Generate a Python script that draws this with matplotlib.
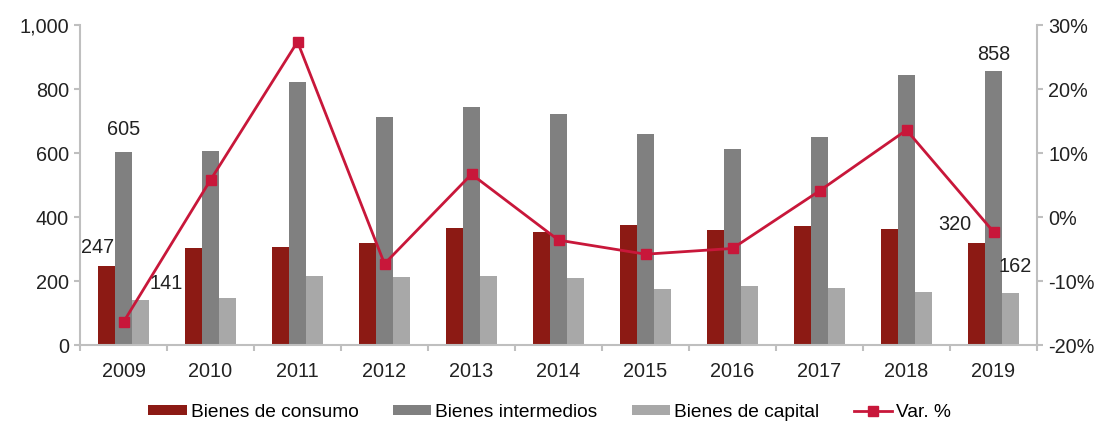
import matplotlib
matplotlib.use("Agg")
import matplotlib.pyplot as plt
import numpy as np
from matplotlib.ticker import FuncFormatter, FixedLocator

plt.rcParams['font.family'] = ['Liberation Sans', 'DejaVu Sans']

years = ['2009', '2010', '2011', '2012', '2013', '2014', '2015', '2016', '2017', '2018', '2019']
consumo = [247, 303, 306, 319, 366, 353, 375, 359, 372, 363, 320]
intermedios = [605, 606, 822, 712, 744, 722, 659, 612, 650, 844, 858]
capital = [141, 147, 216, 213, 216, 209, 175, 184, 178, 165, 162]
var_pct = [-16.4, 5.8, 27.4, -7.3, 6.7, -3.6, -5.8, -4.9, 4.1, 13.6, -2.3]

c_cons = '#8C1A14'
c_int = '#808080'
c_cap = '#A8A8A8'
c_line = '#C8173A'
c_axis = '#BFBFBF'
c_text = '#222222'
fs = 14.3

fig = plt.figure(figsize=(10.99, 4.26), dpi=100)
ax = fig.add_axes([0.0728, 0.19, 0.8708, 0.751])
x = np.arange(len(years))
w = 0.195
ax.bar(x - w, consumo, w, color=c_cons, label='Bienes de consumo', zorder=2)
ax.bar(x, intermedios, w, color=c_int, label='Bienes intermedios', zorder=2)
ax.bar(x + w, capital, w, color=c_cap, label='Bienes de capital', zorder=2)

ax.set_xlim(-0.5, len(years) - 0.5)
ax.set_ylim(0, 1000)
ax.set_yticks([0, 200, 400, 600, 800, 1000])
ax.yaxis.set_major_formatter(FuncFormatter(lambda v, p: f'{int(v):,}'))
ax.set_xticks(x)
ax.set_xticklabels(years)
ax.xaxis.set_minor_locator(FixedLocator(np.arange(-0.5, len(years) + 0.5, 1)))
ax.tick_params(axis='x', which='major', length=0, pad=12, labelsize=fs, colors=c_text)
ax.tick_params(axis='x', which='minor', length=4, color=c_axis, width=1.5)
ax.tick_params(axis='y', length=4, color=c_axis, width=1.5, labelsize=fs, labelcolor=c_text, pad=4)
for s in ['top', 'right']:
    ax.spines[s].set_visible(False)
for s in ['left', 'bottom']:
    ax.spines[s].set_color(c_axis)
    ax.spines[s].set_linewidth(1.5)

ax2 = ax.twinx()
ax2.plot(x, var_pct, color=c_line, marker='s', markersize=7, linewidth=2, label='Var. %', zorder=3)
ax2.set_ylim(-20, 30)
ax2.set_yticks([-20, -10, 0, 10, 20, 30])
ax2.yaxis.set_major_formatter(FuncFormatter(lambda v, p: f'{int(v)}%'))
ax2.tick_params(axis='y', length=4, color=c_axis, width=1.5, labelsize=fs, labelcolor=c_text, pad=4)
for s in ['top', 'left', 'bottom']:
    ax2.spines[s].set_visible(False)
ax2.spines['right'].set_color(c_axis)
ax2.spines['right'].set_linewidth(1.5)

# data labels
ax.text(x[0] - w - 0.1, consumo[0] + 28, f'{consumo[0]}', ha='center', va='bottom', fontsize=fs, color=c_text)
ax.text(x[0], intermedios[0] + 38, f'{intermedios[0]}', ha='center', va='bottom', fontsize=fs, color=c_text)
ax.text(x[0] + w + 0.3, capital[0] + 50, f'{capital[0]}', ha='center', va='center', fontsize=fs, color=c_text)
ax.text(x[-1] - w - 0.25, consumo[-1] + 28, f'{consumo[-1]}', ha='center', va='bottom', fontsize=fs, color=c_text)
ax.text(x[-1], intermedios[-1] + 22, f'{intermedios[-1]}', ha='center', va='bottom', fontsize=fs, color=c_text)
ax.text(x[-1] + w + 0.05, capital[-1] + 55, f'{capital[-1]}', ha='center', va='bottom', fontsize=fs, color=c_text)

h1, l1 = ax.get_legend_handles_labels()
h2, l2 = ax2.get_legend_handles_labels()
fig.legend(h1 + h2, l1 + l2, loc='center', bbox_to_anchor=(0.5, 0.032), ncol=4, frameon=False,
           fontsize=13.8, handlelength=2.0, handleheight=0.45, columnspacing=1.8, handletextpad=0.2,
           borderpad=0)

fig.savefig('out.png', dpi=100)
